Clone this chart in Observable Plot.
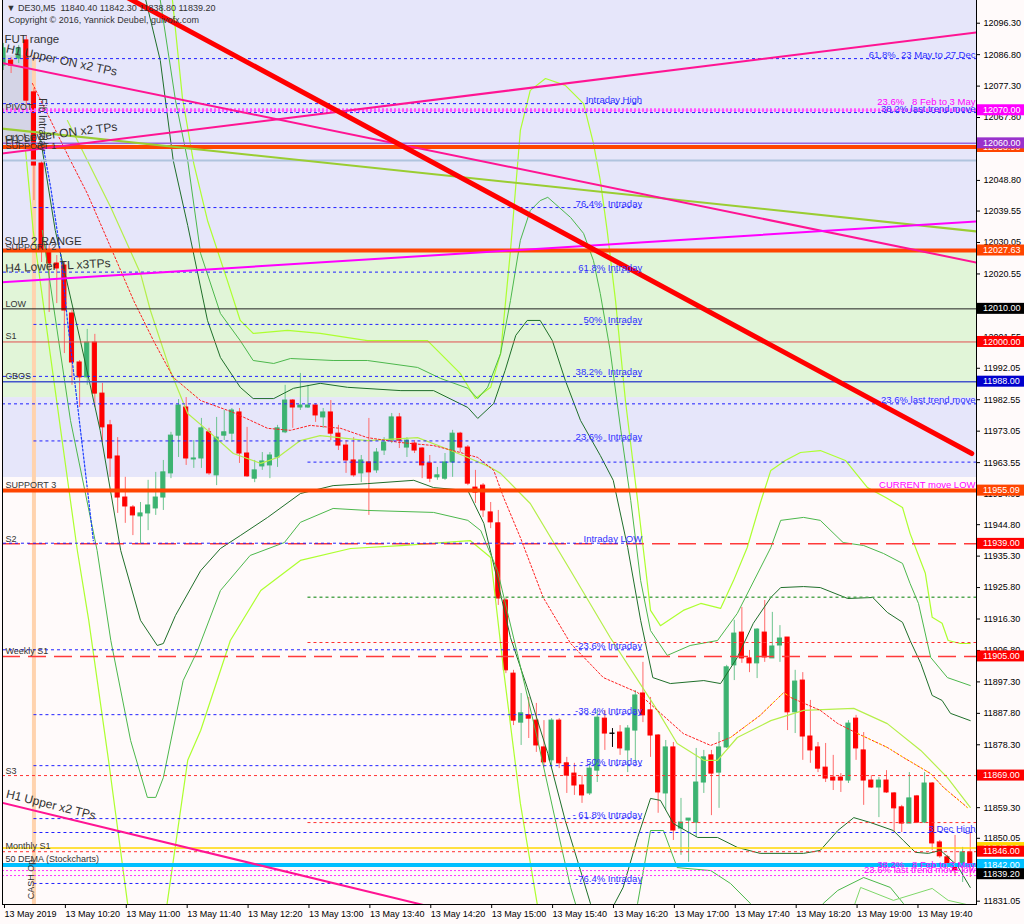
<!DOCTYPE html>
<html><head><meta charset="utf-8">
<script src="https://cdn.jsdelivr.net/npm/d3@7"></script>
<script src="https://cdn.jsdelivr.net/npm/@observablehq/plot@0.6"></script>
<style>
html,body{margin:0;padding:0;background:#fff;}
#chart svg{display:block;}
</style></head><body><div id="chart"></div>
<script>
// ---------- axis data ----------
const tickBars = [0,8,16,24,32,40,48,56,64,72,80,88,96,104,112,120];
const tickLabels = ["13 May 2019","13 May 10:20","13 May 11:00","13 May 11:40","13 May 12:20","13 May 13:00","13 May 13:40","13 May 14:20","13 May 15:00","13 May 15:40","13 May 16:20","13 May 17:00","13 May 17:40","13 May 18:20","13 May 19:00","13 May 19:40"];
const yTicks = [12096.30,12086.80,12077.30,12067.80,12048.80,12039.55,12030.05,12020.55,12001.55,11992.05,11982.55,11973.05,11963.55,11954.05,11944.80,11935.30,11925.80,11916.30,11906.80,11897.30,11887.80,11878.30,11859.30,11850.05,11831.05];
const xDomain = [-0.13, 127.82];
const yDomain = [11830.05, 12103.16];

// ---------- candles (M5) ----------
const opens = [12083.5,12085.0,12085.6,12091.1,12075.4,12053.9,12027.6,12023.7,12023.1,12008.6,11993.8,11989.3,11999.8,11984.4,11974.8,11965.4,11953.0,11950.0,11947.3,11948.2,11949.7,11953.0,11960.3,11971.7,11980.2,11964.5,11964.8,11972.7,11959.7,11971.7,11972.3,11978.7,11966.3,11958.7,11962.4,11962.7,11965.1,11972.7,11982.3,11980.2,11980.2,11980.8,11977.2,11978.7,11972.3,11968.7,11964.2,11960.3,11963.6,11961.2,11967.2,11970.2,11977.2,11968.1,11969.3,11967.8,11963.3,11959.1,11958.7,11963.6,11972.3,11968.1,11956.0,11956.6,11948.5,11945.2,11921.9,11899.8,11885.0,11887.2,11885.6,11877.5,11873.6,11885.6,11872.7,11869.6,11866.0,11863.6,11870.5,11886.2,11881.7,11882.0,11876.6,11882.6,11893.8,11888.7,11881.1,11863.6,11877.5,11853.0,11855.4,11854.8,11866.9,11875.1,11869.9,11877.5,11902.3,11912.2,11904.4,11902.9,11912.2,11904.4,11908.3,11910.7,11888.1,11897.7,11880.8,11877.5,11871.4,11868.4,11868.4,11867.5,11886.2,11876.6,11867.5,11865.4,11867.5,11863.6,11859.4,11854.5,11862.7,11854.8,11866.6,11848.8,11844.3,11842.1,11842.4,11845.8];
const highs = [12090.2,12085.9,12089.6,12092.6,12076.6,12054.8,12029.1,12026.1,12024.0,12009.5,11994.4,12003.8,12002.3,11987.5,11976.3,11971.1,11959.1,11950.6,11951.5,11958.2,11960.6,11964.2,11972.7,11982.6,11983.2,11970.2,11976.9,11973.9,11977.2,11979.3,11979.9,11979.9,11974.2,11964.2,11966.6,11966.6,11974.8,11986.9,11982.6,11990.5,11986.9,11981.4,11979.9,11982.3,11974.8,11970.2,11971.1,11965.7,11976.9,11967.8,11971.1,11978.4,11978.4,11971.1,11970.2,11968.1,11965.7,11962.1,11966.3,11973.3,11972.7,11968.7,11961.2,11957.2,11951.5,11949.1,11922.5,11900.8,11893.8,11892.6,11890.8,11885.6,11886.2,11886.2,11874.5,11872.7,11869.0,11872.7,11888.7,11888.7,11883.2,11884.1,11884.1,11894.7,11903.2,11892.6,11881.4,11879.6,11879.0,11862.1,11856.0,11877.2,11876.6,11876.6,11882.0,11902.3,11915.9,11919.8,11906.8,11913.4,11921.9,11918.3,11914.3,11910.7,11900.8,11900.1,11891.7,11879.0,11878.7,11875.1,11869.6,11885.6,11887.2,11882.0,11869.0,11868.4,11870.5,11863.9,11860.0,11869.9,11863.0,11869.9,11866.9,11849.4,11844.9,11850.9,11847.3,11851.8];
const lows = [12082.0,12081.1,12084.1,12071.4,12042.7,12024.0,12008.9,12011.6,11996.5,11986.9,11980.2,11986.9,11980.2,11969.6,11959.1,11948.2,11945.2,11941.5,11939.1,11943.0,11947.6,11949.1,11958.7,11965.1,11962.7,11961.8,11961.8,11959.7,11956.6,11970.2,11969.6,11963.3,11959.1,11957.5,11961.2,11958.7,11962.1,11972.3,11973.9,11979.3,11979.9,11975.7,11973.9,11970.2,11967.2,11960.3,11959.1,11957.5,11947.6,11960.3,11965.7,11969.3,11967.8,11965.1,11966.3,11958.7,11957.5,11958.2,11958.2,11959.1,11966.6,11956.6,11951.2,11947.0,11943.6,11920.4,11899.8,11884.1,11878.1,11880.2,11876.0,11871.4,11871.4,11871.1,11863.6,11863.0,11860.6,11863.0,11866.9,11876.6,11877.5,11875.1,11869.9,11872.7,11885.0,11874.5,11857.6,11858.4,11849.4,11844.9,11842.8,11850.3,11863.6,11856.9,11859.1,11877.2,11897.7,11902.9,11900.1,11898.3,11903.2,11904.4,11903.2,11882.6,11881.7,11873.6,11872.7,11869.9,11866.9,11864.5,11863.9,11866.6,11873.6,11860.0,11865.1,11856.3,11863.6,11851.8,11851.8,11854.5,11854.5,11854.5,11846.4,11844.0,11840.9,11838.8,11836.7,11838.2];
const closes = [12088.7,12083.5,12088.7,12072.9,12053.3,12027.6,12023.7,12022.2,12009.5,11993.8,11989.3,11999.8,11984.4,11974.2,11964.8,11953.0,11950.3,11947.6,11948.2,11950.6,11953.0,11960.6,11971.7,11980.8,11964.8,11964.8,11973.9,11960.3,11971.1,11972.7,11979.3,11966.3,11959.4,11961.2,11963.9,11965.7,11973.9,11982.3,11980.2,11980.8,11980.8,11977.8,11978.7,11972.3,11968.7,11964.2,11959.7,11964.2,11960.6,11966.6,11969.6,11977.2,11970.2,11970.2,11967.2,11962.7,11958.7,11959.7,11963.6,11972.3,11968.1,11957.2,11954.5,11949.1,11945.5,11922.5,11900.8,11885.6,11887.8,11886.2,11878.1,11873.0,11885.6,11872.7,11869.0,11866.0,11863.0,11871.1,11886.5,11881.7,11881.6,11877.2,11883.2,11893.2,11887.2,11881.1,11863.9,11877.5,11852.4,11854.8,11856.0,11866.9,11874.5,11869.6,11877.5,11901.7,11911.9,11904.4,11902.9,11913.1,11904.7,11908.0,11910.4,11888.1,11897.4,11880.8,11876.6,11871.1,11868.1,11867.5,11867.5,11884.7,11877.2,11867.5,11865.4,11867.5,11863.9,11859.1,11854.5,11862.1,11854.8,11866.6,11848.5,11844.6,11842.1,11840.3,11845.8,11842.4];

// ---------- Bollinger style bands [bar, price] ----------
const bbUpperInner = [[18.7,12103.2],[20.6,12085.0],[22.3,12054.8],[24.2,12035.2],[26.8,12006.5],[28.5,11995.3],[31.1,11986.3],[32.8,11982.9],[35.5,11982.9],[38.1,11986.0],[41.6,11987.5],[45.2,11986.3],[52.2,11985.3],[56.5,11985.3],[61.0,11980.2],[62.3,11976.9],[64.4,11981.4],[65.9,11991.4],[67.3,12002.0],[68.8,12006.5],[70.5,12006.5],[72.1,12000.4],[73.8,11988.4],[75.8,11976.3],[78.4,11965.7],[80.1,11958.2],[82.0,11937.9],[83.7,11915.9],[85.3,11898.6],[87.6,11896.8],[92.0,11897.7],[94.2,11896.8],[96.4,11904.7],[98.5,11915.0],[100.8,11922.8],[102.1,11925.8],[105.1,11926.1],[107.3,11925.8],[110.9,11922.5],[114.2,11922.8],[116.1,11918.3],[118.1,11915.3],[119.1,11909.8],[120.5,11902.9],[122.0,11893.2],[123.3,11891.7],[124.4,11887.8],[127.0,11885.6]];
const bbUpperMid = [[20.6,12103.2],[22.6,12072.9],[24.2,12054.8],[25.9,12026.7],[28.5,12008.6],[31.1,12000.4],[32.8,11994.4],[35.5,11993.5],[37.7,11995.0],[43.3,11994.4],[47.8,11994.4],[54.4,11992.3],[57.4,11989.0],[61.0,11986.0],[62.3,11982.9],[63.6,11986.3],[65.3,11996.5],[66.6,12012.5],[67.9,12030.7],[69.2,12039.7],[70.5,12042.7],[71.5,12043.7],[74.5,12037.6],[76.2,12032.8],[77.5,12024.6],[78.4,12014.6],[79.7,11997.4],[81.1,11973.3],[82.4,11952.1],[83.7,11927.9],[85.0,11912.8],[87.2,11905.3],[90.2,11908.3],[93.8,11909.8],[96.4,11918.0],[100.8,11937.9],[102.1,11946.1],[105.1,11947.0],[107.3,11946.1],[110.3,11939.4],[113.0,11938.5],[115.6,11936.1],[118.1,11933.1],[119.1,11927.0],[120.2,11921.0],[121.8,11904.7],[124.0,11898.6],[127.0,11896.2]];
const bbUpperOuter = [[22.2,12103.2],[23.5,12073.9],[25.0,12053.9],[26.8,12036.7],[29.4,12018.6],[31.1,12006.5],[32.8,12002.6],[37.3,12003.5],[41.6,12002.6],[47.8,12000.4],[55.7,12000.4],[60.0,11990.5],[62.0,11982.9],[64.0,11986.3],[65.3,11996.5],[66.6,12027.6],[67.9,12063.9],[69.2,12076.0],[71.2,12079.6],[73.8,12077.5],[76.2,12072.0],[77.5,12060.0],[78.4,12048.8],[79.3,12033.7],[80.4,12012.5],[81.7,11982.3],[83.3,11952.1],[85.0,11918.9],[86.3,11914.3],[89.3,11918.9],[91.6,11921.0],[94.2,11919.5],[95.9,11927.9],[97.7,11937.9],[99.4,11951.2],[100.8,11961.2],[102.7,11964.2],[104.7,11966.6],[107.3,11967.2],[110.6,11964.2],[113.5,11956.0],[115.9,11953.0],[118.1,11950.0],[119.1,11942.1],[121.1,11930.1],[122.0,11916.8],[123.3,11915.0],[124.1,11909.8],[125.7,11908.9],[127.0,11908.9]];
const bbMiddle = [[8.4,12066.9],[14.1,12040.6],[18.0,12020.7],[19.3,12009.5],[21.9,11991.4],[24.2,11978.4],[26.8,11973.3],[30.2,11966.3],[33.8,11963.3],[36.0,11965.1],[39.0,11970.2],[41.6,11971.7],[47.8,11970.2],[54.4,11971.1],[57.8,11968.1],[61.0,11965.1],[64.0,11962.1],[65.3,11960.3],[69.2,11951.2],[74.5,11930.9],[79.7,11910.7],[85.9,11888.7],[88.5,11878.7],[92.0,11873.6],[93.8,11873.6],[96.4,11880.5],[100.8,11885.6],[105.1,11888.7],[111.7,11889.3],[116.1,11884.7],[120.5,11876.6],[124.0,11868.4],[127.0,11859.4]];
const bbLowerInner = [[4.9,12060.9],[6.8,12033.7],[10.1,12000.4],[12.7,11973.3],[15.4,11937.0],[18.0,11915.9],[20.2,11908.3],[21.0,11908.9],[22.6,11917.4],[25.9,11930.9],[28.5,11937.6],[31.1,11941.5],[34.7,11947.0],[39.0,11954.2],[43.3,11956.6],[47.8,11957.2],[53.9,11958.2],[56.5,11956.0],[61.0,11955.1],[63.1,11945.2],[64.9,11927.9],[66.6,11910.7],[68.8,11895.6],[71.5,11875.7],[73.8,11855.4],[75.8,11840.3],[77.1,11830.4],[78.0,11825.2],[79.1,11825.2],[81.4,11835.2],[83.3,11850.3],[85.0,11862.1],[86.3,11861.5],[88.0,11854.5],[91.2,11850.3],[93.8,11850.3],[96.4,11847.3],[99.4,11845.5],[105.1,11845.5],[107.3,11846.4],[109.6,11852.4],[111.7,11856.3],[113.9,11854.8],[116.9,11852.4],[118.2,11849.4],[119.8,11845.8],[121.5,11845.5],[123.1,11846.4],[125.3,11841.8],[127.0,11835.2]];
const bbLowerMid = [[5.1,12033.7],[8.8,11976.3],[12.3,11937.0],[14.1,11909.8],[16.7,11879.6],[18.9,11862.4],[20.0,11862.4],[21.0,11868.4],[23.6,11897.7],[25.5,11906.8],[28.5,11924.9],[32.4,11935.5],[36.9,11939.4],[39.0,11945.5],[43.3,11949.7],[47.8,11949.1],[56.5,11948.5],[61.0,11946.1],[62.7,11943.0],[64.9,11930.9],[67.5,11905.9],[70.1,11880.5],[72.8,11852.4],[74.5,11835.2],[76.2,11822.2],[82.4,11822.2],[83.3,11830.4],[85.0,11852.4],[86.7,11852.4],[88.5,11841.2],[92.9,11840.3],[95.5,11836.4],[98.1,11830.4],[99.2,11822.2],[106.7,11822.2],[107.7,11830.4],[109.6,11834.3],[113.0,11838.2],[116.5,11835.2],[118.2,11830.4],[119.1,11822.2]];
const bbLowerOuterA = [[2.9,12057.8],[3.9,12033.7],[6.8,11985.3],[9.7,11937.0],[11.2,11915.9],[13.8,11873.6],[16.3,11830.4],[16.8,11822.2],[21.0,11822.2],[21.5,11830.4],[24.2,11873.6],[25.9,11882.6],[29.8,11909.8],[33.8,11924.9],[39.0,11934.0],[45.6,11937.6],[52.2,11938.5],[61.3,11940.0],[64.0,11934.9],[65.7,11900.8],[67.9,11860.6],[70.1,11830.4],[70.7,11822.2]];
const bbLowerOuterB = [[110.6,11822.2],[112.6,11835.2],[116.9,11831.3],[122.0,11834.9],[124.1,11831.3],[127.0,11829.8]];
const emaLine = [[3.8,12078.1],[8.8,12054.8],[11.0,12044.9],[14.1,12028.5],[17.1,12012.5],[19.7,12000.4],[22.3,11989.3],[25.9,11982.3],[30.2,11978.7],[34.7,11973.9],[37.7,11973.3],[40.3,11974.8],[44.3,11973.9],[47.8,11971.1],[52.2,11969.6],[56.5,11968.7],[60.0,11966.6],[62.3,11965.1],[64.4,11961.2],[65.7,11953.0],[67.9,11940.9],[70.9,11922.8],[74.5,11908.9],[78.8,11898.6],[83.3,11894.1],[85.9,11888.7],[89.3,11881.7],[92.9,11878.1],[95.5,11880.5],[99.4,11887.2],[102.5,11894.1],[103.4,11892.6],[107.3,11888.7],[109.6,11884.7],[112.2,11881.7],[116.1,11877.5],[118.2,11874.5],[121.8,11869.6],[123.5,11865.4],[126.6,11859.4]];
const emaYellowRanges = [[95, 104], [112, 127]];
const blueDotCurve = [[5.25,12058.7],[6.2,12046.7],[7.5,12026.7],[8.4,12006.5],[9.7,11981.4],[11.0,11956.0],[11.8,11940.0]];

// ---------- trend lines [bar, price] ----------
const redTrend = [[14.06,12106.8],[127.2,11966.3]];
const h1UpperON = [[-0.39,12084.4],[127.8,12024.0]];
const h1LowerON = [[-0.39,12056.9],[127.8,12093.5]];
const h4LowerTL = [[-0.39,12018.0],[127.8,12036.4]];
const h1UpperX2 = [[-0.39,11860.9],[60,11827.2]];
const greenTL = [[-0.39,12064.5],[127.8,12033.4]];

// ---------- horizontal levels ----------
const lavenderZones = [[12027.63,12103.16],[11959.05,11983.2]];
const greenZone = [[11983.2,12027.63]];
const futRange = [12059.4, 12086.5];
const futBars = [-0.39, 4.2];
const cashOpenBar = 4;
const orangeLevels = [12058.9, 12027.63, 11955.09];
const purpleLevel = [12060.0];
const steelLevel = [12054.8];
const pinkBandLevel = [12070.0];
const lowLevel = [12010.0];
const s1Level = [12000.0];
const cbosLevel = [11988.0];
const redDashLevels = [11939.0, 11905.0];
const redDotLevels = [11869.0, 11846.0];
const redDotPartial = [11909.2, 11854.8];
const greenDotPartial = [11922.9];
const partialStartBar = 40;
const goldLevel = [11847.1];
const demaLevel = [11842.0];
const pinkDotLevels = [11840.3, 11838.8];
const blueDashFull = [12085.6, 12069.3, 11981.3];
const blueDashPartial = [11963.7];
const decHighLevel = [11851.8];
const intradayLevels = [12072.0,12040.6,12021.1,12005.3,11989.6,11970.1,11939.2,11907.0,11887.4,11872.0,11856.0,11836.4];
const intradayStart = [0,4,0,4,0,4,0,0,4,4,4,4];
const intradayEnd = 83.9;
const intradayLabels = ["Intraday High","76.4%  Intraday","61.8% Intraday","50%  Intraday","38.2%  Intraday","23.6%  Intraday","Intraday LOW","-23.6% Intraday","-38.4% Intraday","- 50% Intraday","- 61.8% Intraday","-76.4% Intraday"];

// left labels: text, price anchor (baseline)
const leftLabels = ["PIVOT","LOW","S1","CBOS","SUPPORT 3","S2","Weekly S1","S3","Monthly S1","50 DEMA (Stockcharts)","CLOSE","SUPPORT 1","SUPPORT 2"];
const leftLabelPrices = [12070.2,12010.7,12001.0,11988.7,11956.0,11939.7,11905.6,11869.6,11846.7,11842.8,12060.6,12058.4,12027.9];
const bigLabels = ["FUT range","SUP 2 RANGE"];
const bigLabelPrices = [12090.2,12029.4];
const slantLabels = ["H1 Upper ON x2 TPs","H1 Lower ON x2 TPs","H4 Lower TL x3TPs","H1 Upper x2 TPs"];
const slantPrices = [12087.5,12059.7,12021.0,11862.4];
const slantAngles = [12,-7,-3,14];

// right labels
const rightLabels = ["61.8%  23 May to 27 Dec","38.2% last trend move","23.6% last trend move","3 Dec High"];
const rightLabelPrices = [12085.6,12069.3,11981.3,11851.8];
const pinkRightLabels = ["23.6%   8 Feb to 3 May","CURRENT move LOW","38.2%   8 Feb to 3 May","23.6% last trend move low"];
const pinkRightPrices = [12071.6,11955.8,11841.2,11839.6];

// price tags on the right axis
const tagPrices = [12070.00,12058.90,12060.00,12027.63,12010.00,12000.00,11988.00,11955.09,11939.00,11905.00,11869.00,11847.10,11846.00,11842.00,11839.20];
const tagColors = ["#ff00ff","#ff4500","#9932cc","#ff4500","#000000","#ff0000","#0000cd","#ff4500","#ff0000","#ff0000","#ff0000","#ffd700","#ff0000","#00bfff","#000000"];

const headerLine = "\u25BC DE30,M5  11840.40 11842.30 11838.80 11839.20";
const copyrightLine = "Copyright \u00A9 2016, Yannick Deubel, guivofx.com";

// ---------- build ----------
const bars = opens.map((o, i) => ({i, o, h: highs[i], l: lows[i], c: closes[i]}));
const bodyColor = d => Math.abs(d.c - d.o) < 0.15 ? "#000" : (d.c > d.o ? "#3cb371" : "#ff0000");
const wickColor = d => Math.abs(d.c - d.o) < 0.15 ? "#000" : (d.c > d.o ? "#6cc48f" : "#ff6a6a");
const X0 = xDomain[0], X1 = xDomain[1];
const curve = (data, stroke, w = 1, dash) => Plot.line(data, {x: d => d[0], y: d => d[1], stroke, strokeWidth: w, strokeDasharray: dash, clip: true});
const hfull = (vals, stroke, w = 1, dash) => Plot.ruleY(vals, {stroke, strokeWidth: w, strokeDasharray: dash});
const hpart = (vals, x1, x2, stroke, w = 1, dash) => Plot.ruleY(vals, {x1: () => x1, x2: () => x2, stroke, strokeWidth: w, strokeDasharray: dash});
const LF = "'Liberation Sans', Arial, sans-serif";
const intraday = intradayLevels.map((p, k) => ({p, s: intradayStart[k], t: intradayLabels[k]}));
const emaYellow = emaYellowRanges.map(([a, b]) => emaLine.filter(d => d[0] >= a && d[0] <= b));

const chart = Plot.plot({
  width: 1024, height: 924,
  marginLeft: 2, marginRight: 48, marginTop: 0, marginBottom: 20,
  x: {domain: xDomain},
  y: {domain: yDomain},
  style: {fontFamily: LF, fontSize: "9px", background: "#fffafa", color: "#000"},
  marks: [
    Plot.rect(lavenderZones, {x1: () => X0, x2: () => X1, y1: d => d[0], y2: d => d[1], fill: "#e6e6fa"}),
    Plot.rect(greenZone, {x1: () => X0, x2: () => X1, y1: d => d[0], y2: d => d[1], fill: "#e1f5d8"}),
    Plot.rect([futRange], {x1: () => futBars[0], x2: () => futBars[1], y1: d => d[0], y2: d => d[1], fill: "#d4d4e6", clip: true}),
    Plot.ruleX([cashOpenBar], {y1: futRange[1], y2: yDomain[0], stroke: "#ffd3ae", strokeWidth: 4}),
    // candles
    Plot.ruleX(bars, {x: "i", y1: "l", y2: "h", stroke: wickColor, strokeWidth: 1, clip: true}),
    Plot.rect(bars, {x1: d => d.i - 0.27, x2: d => d.i + 0.27, y1: "o", y2: "c", fill: bodyColor, stroke: bodyColor, strokeWidth: 1, clip: true}),
    // indicators
    curve(bbUpperOuter, "#adff2f", 1.2),
    curve(bbUpperMid, "#4cb84c", 1),
    curve(bbUpperInner, "#1f6f2a", 1),
    curve(bbMiddle, "#b5ef4a", 1.2),
    curve(bbLowerInner, "#1f6f2a", 1),
    curve(bbLowerMid, "#4cb84c", 1),
    curve(bbLowerOuterA, "#adff2f", 1.2),
    curve(bbLowerOuterB, "#7fd86a", 1),
    curve(emaLine, "#ff2020", 1, "2,2"),
    ...emaYellow.map(seg => curve(seg, "#ffe000", 1, "2,4")),
    curve(blueDotCurve, "#1a3cff", 1.2, "2,2"),
    // horizontal levels
    hfull(steelLevel, "#b0c4de", 2),
    hfull(pinkBandLevel, "#ffa0ff", 1),
    hfull(pinkBandLevel, "#ff55ff", 4, "2,2"),
    hfull(purpleLevel, "#9966dd", 1.5),
    hfull(lowLevel, "#222", 1),
    hfull(s1Level, "#e05050", 1),
    hfull(cbosLevel, "#4455cc", 1.5),
    hfull(redDashLevels, "#ff3a3a", 1.5, "18,8"),
    hfull(redDotLevels, "#ff3030", 1, "3,3"),
    hpart(redDotPartial, partialStartBar, X1, "#ff3030", 1, "3,3"),
    hpart(greenDotPartial, partialStartBar, X1, "#55a855", 1.5, "3,3"),
    hfull(goldLevel, "#ffd700", 1.5),
    hfull(pinkDotLevels, "#ff33ff", 1, "2,2"),
    hfull(blueDashFull, "#2020ff", 1, "3,3"),
    hpart(blueDashPartial, partialStartBar, X1, "#2020ff", 1, "3,3"),
    hpart(decHighLevel, cashOpenBar, X1, "#2020ff", 1, "3,3"),
    Plot.ruleY(intraday, {y: "p", x1: "s", x2: () => intradayEnd, stroke: "#2020ff", strokeWidth: 1, strokeDasharray: "3,3"}),
    hfull(demaLevel, "#00bfff", 4),
    hfull(orangeLevels, "#ff4500", 4),
    // trend lines
    curve(greenTL, "#9acd32", 2),
    curve(h1UpperON, "#ff1493", 2),
    curve(h1LowerON, "#ff1493", 2),
    curve(h4LowerTL, "#ff00ff", 2),
    curve(h1UpperX2, "#ff1493", 2),
    curve(redTrend, "#ff0000", 5),
    // texts
    Plot.text(intraday, {x: () => intradayEnd, y: "p", text: "t", textAnchor: "end", lineAnchor: "bottom", dy: -1, fill: "#3030ff", fontSize: 9.5}),
    Plot.text(rightLabels, {x: () => X1, y: (d, k) => rightLabelPrices[k], text: d => d, textAnchor: "end", lineAnchor: "bottom", dx: -1, dy: -1, fill: "#3030ff", fontSize: 9.5}),
    Plot.text(pinkRightLabels, {x: () => X1, y: (d, k) => pinkRightPrices[k], text: d => d, textAnchor: "end", lineAnchor: "bottom", dx: -1, fill: "#ff00ff", fontSize: 9.5}),
    Plot.text(leftLabels, {x: () => 0, y: (d, k) => leftLabelPrices[k], text: d => d, textAnchor: "start", lineAnchor: "bottom", dx: 2, fill: "#333", fontSize: 9}),
    Plot.text(bigLabels, {x: () => 0, y: (d, k) => bigLabelPrices[k], text: d => d, textAnchor: "start", lineAnchor: "bottom", dx: 1, fill: "#333", fontSize: 11.5}),
    ...slantLabels.map((t, k) => Plot.text([t], {x: () => 0, y: () => slantPrices[k], text: d => d, textAnchor: "start", lineAnchor: "bottom", dx: 2, rotate: slantAngles[k], fill: "#333", fontSize: 12})),
    Plot.text(["Fib Intraday"], {x: () => 5.1, y: () => 12073.6, text: d => d, textAnchor: "start", lineAnchor: "middle", rotate: 90, fill: "#333", fontSize: 10}),
    Plot.text(["CASH Op"], {x: () => 3.6, y: () => 11831.6, text: d => d, textAnchor: "start", lineAnchor: "middle", rotate: -90, fill: "#333", fontSize: 9}),
    Plot.text([headerLine], {frameAnchor: "top-left", text: d => d, dx: 4, dy: 4, textAnchor: "start", lineAnchor: "top", fill: "#333", fontSize: 9}),
    Plot.text([copyrightLine], {frameAnchor: "top-left", text: d => d, dx: 6, dy: 16, textAnchor: "start", lineAnchor: "top", fill: "#333", fontSize: 9}),
    // axes + frame
    Plot.axisY({anchor: "right", ticks: yTicks, tickFormat: d => d.toFixed(2), tickSize: 3, tickPadding: 4, fontSize: 9, fill: "#000"}),
    Plot.axisX({ticks: tickBars, tickFormat: d => tickLabels[tickBars.indexOf(d)], tickSize: 4, tickPadding: 2, textAnchor: "start", dx: 1, fontSize: 9, fill: "#000"}),
    Plot.frame({anchor: "left", stroke: "#000"}),
    Plot.frame({anchor: "right", stroke: "#000"}),
    Plot.frame({anchor: "bottom", stroke: "#000"})
  ]
});

// coloured price tags on the right axis, positioned through the y scale
const yS = chart.scale("y");
const g = d3.select(chart).append("g").attr("font-family", LF).attr("font-size", 9).attr("text-anchor", "start");
tagPrices.forEach((p, k) => {
  const yy = yS.apply(p);
  g.append("rect").attr("x", 977).attr("y", yy - 5.5).attr("width", 47).attr("height", 11).attr("fill", tagColors[k]);
  g.append("text").attr("x", 983).attr("y", yy).attr("dy", "0.34em").attr("text-anchor", "start").attr("fill", "#fff").text(p.toFixed(2));
});
document.getElementById("chart").appendChild(chart);
</script></body></html>
